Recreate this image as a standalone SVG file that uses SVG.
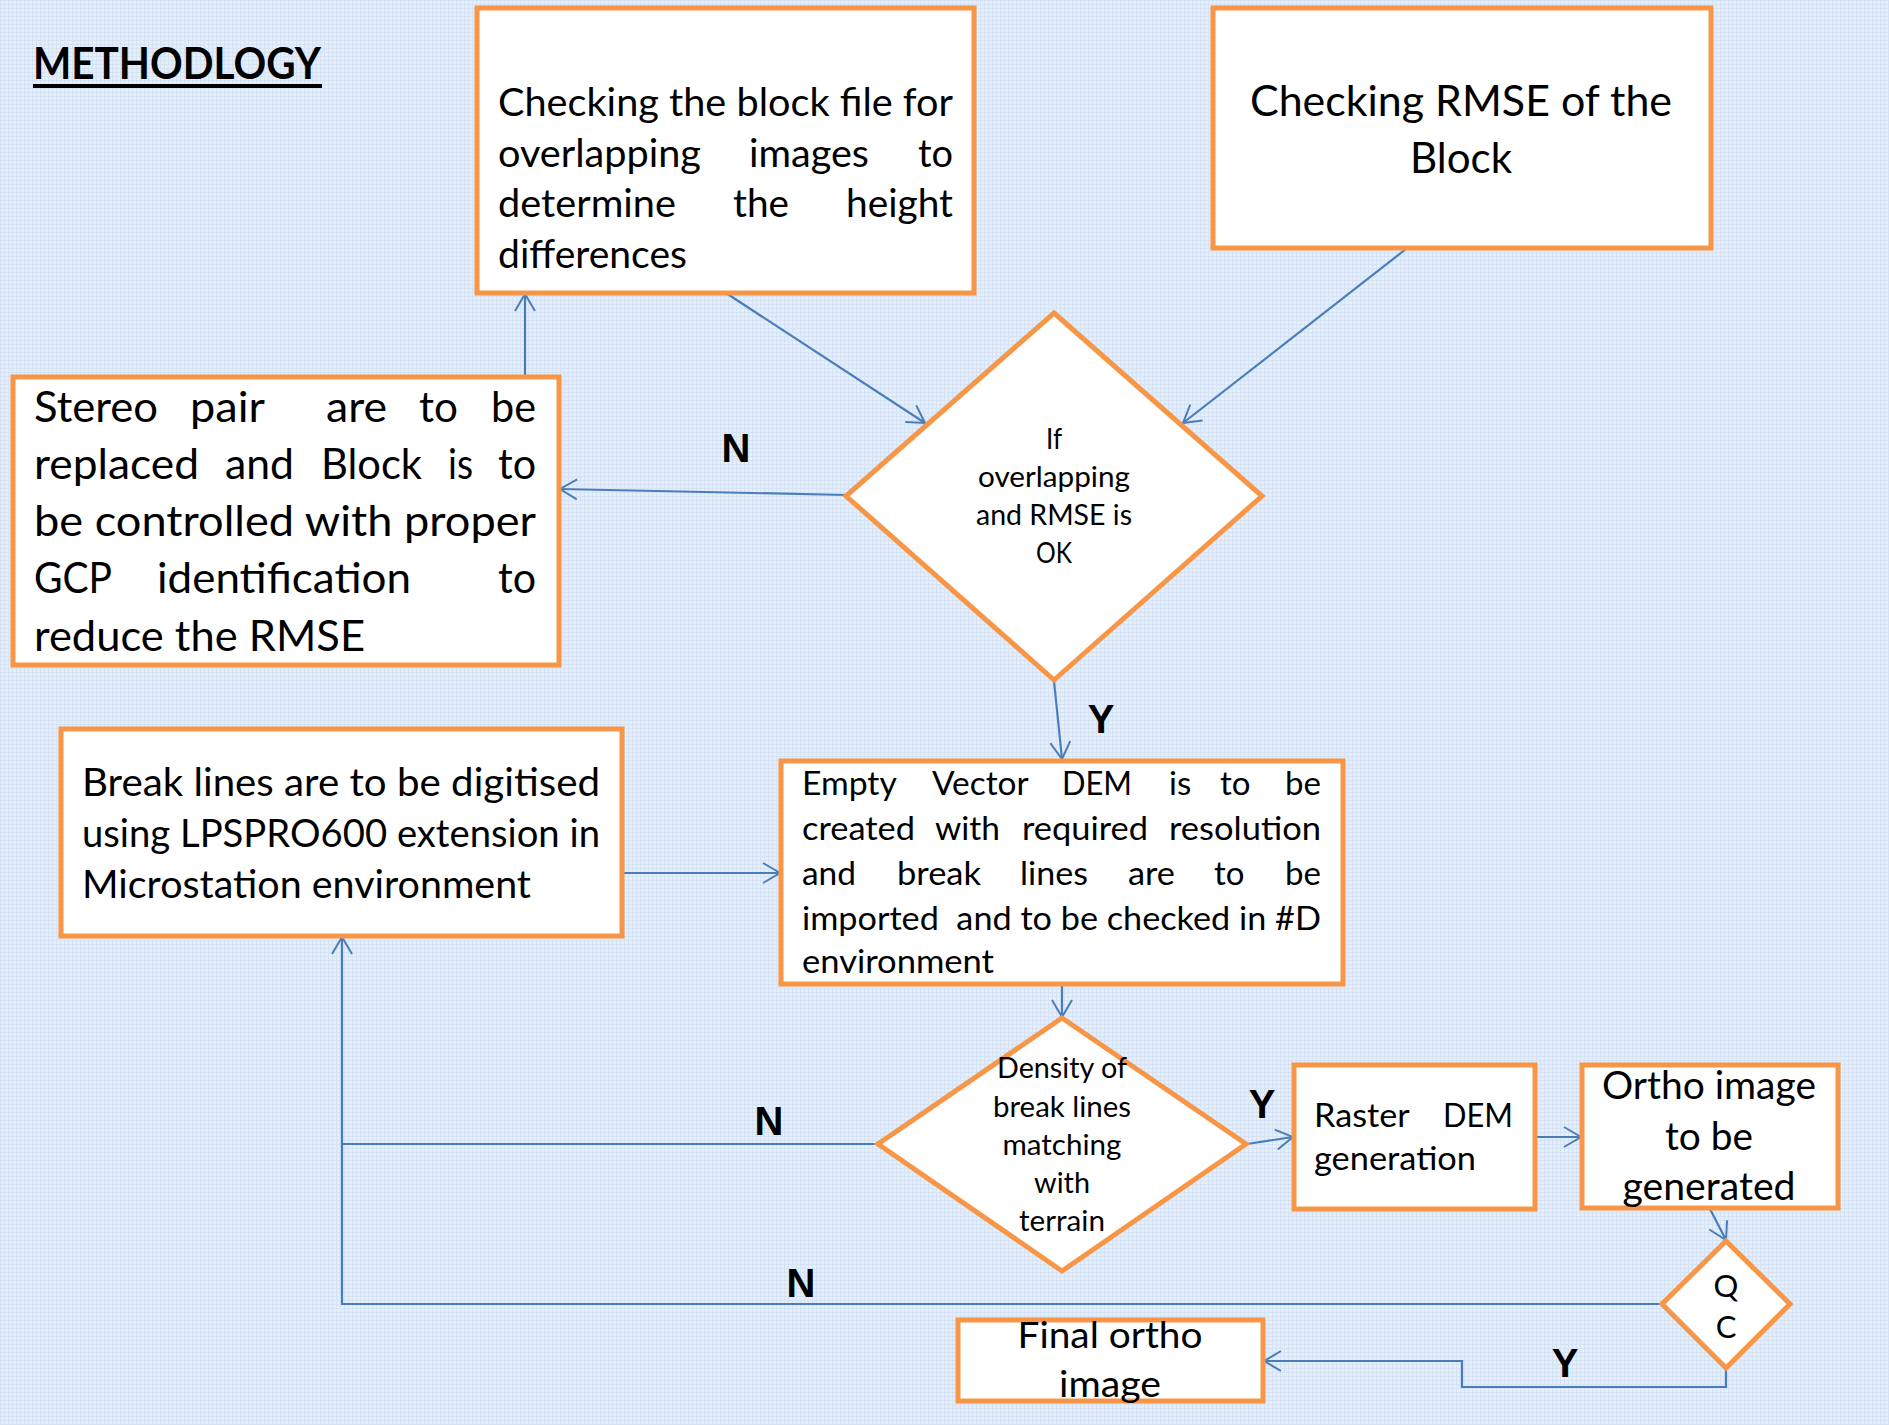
<svg xmlns="http://www.w3.org/2000/svg" width="1889" height="1425" viewBox="0 0 1889 1425">
<defs>
<pattern id="grid" width="4" height="4" patternUnits="userSpaceOnUse">
<rect width="4" height="4" fill="#e6eef9"/>
<rect width="4" height="1" fill="#d6e3f4"/>
<rect width="1" height="4" fill="#d6e3f4"/>
</pattern>
<marker id="arr" markerUnits="userSpaceOnUse" markerWidth="20" markerHeight="22" refX="18" refY="11" orient="auto" viewBox="0 0 20 22">
<path d="M1,1 L18,11 L1,21" fill="none" stroke="#4a7ebb" stroke-width="2"/>
</marker>
</defs>
<style>
.box{fill:#ffffff;stroke:#f79646;stroke-width:5;stroke-linejoin:miter}
.t{font-family:Lato,"Open Sans",sans-serif;fill:#000000}
.c{text-anchor:middle}
.e{text-anchor:end}
.lab{font-family:"Liberation Sans",Arial,sans-serif;font-weight:bold;font-size:40px;text-anchor:middle;fill:#000000}
.con{fill:none;stroke:#4a7ebb;stroke-width:2.2}
</style>
<rect width="1889" height="1425" fill="url(#grid)"/>

<g id="title">
<text class="t" x="33" y="79" font-size="43" font-weight="bold" textLength="288" lengthAdjust="spacingAndGlyphs">METHODLOGY</text>
<rect x="33" y="84" width="289" height="4" fill="#000000"/>
</g>

<g id="connectors">
<path class="con" d="M525,377 L525,294" marker-end="url(#arr)"/>
<path class="con" d="M726,293 L925,423" marker-end="url(#arr)"/>
<path class="con" d="M1406,249 L1183,423" marker-end="url(#arr)"/>
<path class="con" d="M847,495 L560,489" marker-end="url(#arr)"/>
<path class="con" d="M1054,681 L1062,759" marker-end="url(#arr)"/>
<path class="con" d="M622,873 L780,873" marker-end="url(#arr)"/>
<path class="con" d="M1062,984 L1062,1017" marker-end="url(#arr)"/>
<path class="con" d="M878,1144 L342,1144"/>
<path class="con" d="M1662,1304 L342,1304 L342,937" marker-end="url(#arr)"/>
<path class="con" d="M1247,1144 L1293,1137" marker-end="url(#arr)"/>
<path class="con" d="M1535,1137 L1581,1137" marker-end="url(#arr)"/>
<path class="con" d="M1710,1209 L1726,1240" marker-end="url(#arr)"/>
<path class="con" d="M1726,1368 L1726,1387 L1462,1387 L1462,1361 L1264,1361" marker-end="url(#arr)"/>
</g>

<g id="labels">
<text class="lab" x="736" y="462">N</text>
<text class="lab" x="1101" y="733">Y</text>
<text class="lab" x="769" y="1135">N</text>
<text class="lab" x="1262" y="1118">Y</text>
<text class="lab" x="801" y="1297">N</text>
<text class="lab" x="1565" y="1377">Y</text>
</g>

<g id="node-check-block">
<rect class="box" x="477" y="8" width="497" height="285"/>
<text class="t" font-size="38">
<tspan x="498" y="116" textLength="455" lengthAdjust="spacingAndGlyphs">Checking the block file for</tspan>
</text>
<text class="t" font-size="38">
<tspan x="498" y="167" textLength="203" lengthAdjust="spacingAndGlyphs">overlapping</tspan>
<tspan x="749" y="167" textLength="120" lengthAdjust="spacingAndGlyphs">images</tspan>
<tspan x="918" y="167" textLength="35" lengthAdjust="spacingAndGlyphs">to</tspan>
</text>
<text class="t" font-size="38">
<tspan x="498" y="217" textLength="178" lengthAdjust="spacingAndGlyphs">determine</tspan>
<tspan x="733" y="217" textLength="56" lengthAdjust="spacingAndGlyphs">the</tspan>
<tspan x="846" y="217" textLength="107" lengthAdjust="spacingAndGlyphs">height</tspan>
</text>
<text class="t" font-size="38">
<tspan x="498" y="268" textLength="189" lengthAdjust="spacingAndGlyphs">differences</tspan>
</text>
</g>

<g id="node-check-rmse">
<rect class="box" x="1213" y="8" width="498" height="240"/>
<text class="t c" font-size="43" x="1461" y="116" textLength="422" lengthAdjust="spacingAndGlyphs">Checking RMSE of the</text>
<text class="t c" font-size="43" x="1461" y="173" textLength="102" lengthAdjust="spacingAndGlyphs">Block</text>
</g>

<g id="node-stereo">
<rect class="box" x="13" y="377" width="546" height="288"/>
<text class="t" font-size="43">
<tspan x="34" y="422" textLength="124" lengthAdjust="spacingAndGlyphs">Stereo</tspan>
<tspan x="190" y="422" textLength="74" lengthAdjust="spacingAndGlyphs">pair</tspan>
<tspan x="326" y="422" textLength="61" lengthAdjust="spacingAndGlyphs">are</tspan>
<tspan x="419" y="422" textLength="39" lengthAdjust="spacingAndGlyphs">to</tspan>
<tspan x="491" y="422" textLength="45" lengthAdjust="spacingAndGlyphs">be</tspan>
</text>
<text class="t" font-size="43">
<tspan x="34" y="479" textLength="165" lengthAdjust="spacingAndGlyphs">replaced</tspan>
<tspan x="225" y="479" textLength="69" lengthAdjust="spacingAndGlyphs">and</tspan>
<tspan x="321" y="479" textLength="101" lengthAdjust="spacingAndGlyphs">Block</tspan>
<tspan x="448" y="479" textLength="25" lengthAdjust="spacingAndGlyphs">is</tspan>
<tspan x="498" y="479" textLength="38" lengthAdjust="spacingAndGlyphs">to</tspan>
</text>
<text class="t" font-size="43" x="34" y="536" textLength="502" lengthAdjust="spacingAndGlyphs">be controlled with proper</text>
<text class="t" font-size="43">
<tspan x="34" y="593" textLength="77" lengthAdjust="spacingAndGlyphs">GCP</tspan>
<tspan x="157" y="593" textLength="254" lengthAdjust="spacingAndGlyphs">identification</tspan>
<tspan x="498" y="593" textLength="38" lengthAdjust="spacingAndGlyphs">to</tspan>
</text>
<text class="t" font-size="43" x="34" y="651" textLength="331" lengthAdjust="spacingAndGlyphs">reduce the RMSE</text>
</g>

<g id="node-decision-overlap">
<polygon class="box" points="1054,313 1262,496 1054,680 846,496"/>
<text class="t c" font-size="28" x="1054" y="449" textLength="16" lengthAdjust="spacingAndGlyphs">If</text>
<text class="t c" font-size="28" x="1054" y="487" textLength="152" lengthAdjust="spacingAndGlyphs">overlapping</text>
<text class="t c" font-size="28" x="1054" y="525" textLength="156" lengthAdjust="spacingAndGlyphs">and RMSE is</text>
<text class="t c" font-size="28" x="1054" y="563" textLength="36" lengthAdjust="spacingAndGlyphs">OK</text>
</g>

<g id="node-breaklines">
<rect class="box" x="61" y="729" width="561" height="207"/>
<text class="t" font-size="38" x="82" y="796" textLength="518" lengthAdjust="spacingAndGlyphs">Break lines are to be digitised</text>
<text class="t" font-size="38" x="82" y="847" textLength="518" lengthAdjust="spacingAndGlyphs">using LPSPRO600 extension in</text>
<text class="t" font-size="38" x="82" y="898" textLength="449" lengthAdjust="spacingAndGlyphs">Microstation environment</text>
</g>

<g id="node-empty-dem">
<rect class="box" x="781" y="761" width="562" height="223"/>
<text class="t" font-size="33">
<tspan x="802" y="795" textLength="94" lengthAdjust="spacingAndGlyphs">Empty</tspan>
<tspan x="932" y="795" textLength="96" lengthAdjust="spacingAndGlyphs">Vector</tspan>
<tspan x="1062" y="795" textLength="70" lengthAdjust="spacingAndGlyphs">DEM</tspan>
<tspan x="1169" y="795">is</tspan>
<tspan x="1220" y="795">to</tspan>
</text>
<text class="t e" font-size="33" x="1321" y="795">be</text>
<text class="t" font-size="33">
<tspan x="802" y="840" textLength="113" lengthAdjust="spacingAndGlyphs">created</tspan>
<tspan x="935" y="840" textLength="65" lengthAdjust="spacingAndGlyphs">with</tspan>
<tspan x="1022" y="840" textLength="126" lengthAdjust="spacingAndGlyphs">required</tspan>
<tspan x="1169" y="840" textLength="152" lengthAdjust="spacingAndGlyphs">resolution</tspan>
</text>
<text class="t" font-size="33">
<tspan x="802" y="885" textLength="54" lengthAdjust="spacingAndGlyphs">and</tspan>
<tspan x="897" y="885" textLength="84" lengthAdjust="spacingAndGlyphs">break</tspan>
<tspan x="1020" y="885" textLength="68" lengthAdjust="spacingAndGlyphs">lines</tspan>
<tspan x="1128" y="885" textLength="47" lengthAdjust="spacingAndGlyphs">are</tspan>
<tspan x="1214" y="885">to</tspan>
</text>
<text class="t e" font-size="33" x="1321" y="885">be</text>
<text class="t" font-size="33" x="802" y="930" textLength="519" lengthAdjust="spacingAndGlyphs" xml:space="preserve">imported  and to be checked in #D</text>
<text class="t" font-size="33" x="802" y="973" textLength="192" lengthAdjust="spacingAndGlyphs">environment</text>
</g>

<g id="node-decision-density">
<polygon class="box" points="1062,1018 1246,1144 1062,1271 878,1144"/>
<text class="t c" font-size="28" x="1062" y="1078" textLength="130" lengthAdjust="spacingAndGlyphs">Density of</text>
<text class="t c" font-size="28" x="1062" y="1117" textLength="138" lengthAdjust="spacingAndGlyphs">break lines</text>
<text class="t c" font-size="28" x="1062" y="1155" textLength="119" lengthAdjust="spacingAndGlyphs">matching</text>
<text class="t c" font-size="28" x="1062" y="1193" textLength="56" lengthAdjust="spacingAndGlyphs">with</text>
<text class="t c" font-size="28" x="1062" y="1231" textLength="86" lengthAdjust="spacingAndGlyphs">terrain</text>
</g>

<g id="node-raster-dem">
<rect class="box" x="1294" y="1065" width="241" height="144"/>
<text class="t" font-size="32">
<tspan x="1314" y="1127" textLength="95" lengthAdjust="spacingAndGlyphs">Raster</tspan>
<tspan x="1443" y="1127" textLength="70" lengthAdjust="spacingAndGlyphs">DEM</tspan>
</text>
<text class="t" font-size="32" x="1314" y="1170" textLength="162" lengthAdjust="spacingAndGlyphs">generation</text>
</g>

<g id="node-ortho">
<rect class="box" x="1582" y="1065" width="256" height="143"/>
<text class="t c" font-size="38" x="1709" y="1099" textLength="214" lengthAdjust="spacingAndGlyphs">Ortho image</text>
<text class="t c" font-size="38" x="1709" y="1150" textLength="88" lengthAdjust="spacingAndGlyphs">to be</text>
<text class="t c" font-size="38" x="1709" y="1200" textLength="173" lengthAdjust="spacingAndGlyphs">generated</text>
</g>

<g id="node-qc">
<polygon class="box" points="1726,1241 1790,1304 1726,1368 1662,1304"/>
<text class="t c" font-size="31" x="1726" y="1297">Q</text>
<text class="t c" font-size="31" x="1726" y="1338">C</text>
</g>

<g id="node-final">
<rect class="box" x="958" y="1320" width="305" height="81"/>
<text class="t c" font-size="37" x="1110" y="1348" textLength="185" lengthAdjust="spacingAndGlyphs">Final ortho</text>
<text class="t c" font-size="37" x="1110" y="1397" textLength="102" lengthAdjust="spacingAndGlyphs">image</text>
</g>
</svg>
